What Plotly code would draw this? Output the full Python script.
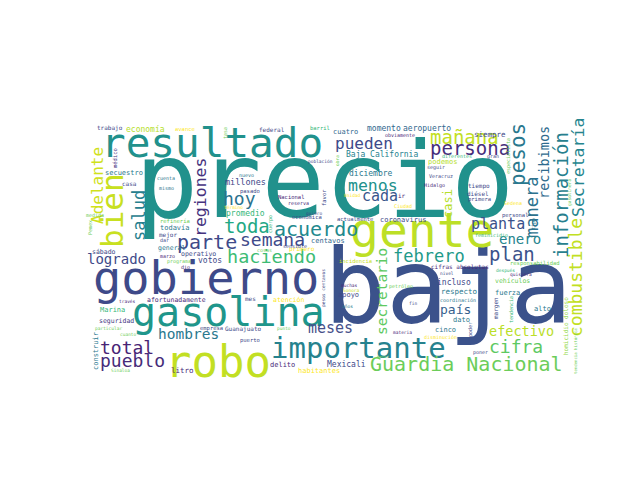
import plotly.graph_objects as go

FONT = "DejaVu Sans Mono"

# ---------------------------------------------------------------------------
# Word cloud data: words and their relative weight (font size in px)
# ---------------------------------------------------------------------------

words = [
    "precio", "baja", "gobierno", "gente", "robo", "resultado", "gasolina",
    "bien", "importante", "Guardia Nacional", "acuerdo", "parte", "información",
    "toda", "haciendo", "plan", "hoy", "persona", "mañana", "combustible",
    "pesos", "total", "pueblo", "semana", "cifra", "salud", "manera", "febrero",
    "Adelante", "regiones", "Secretaría", "menos", "pueden", "cada", "planta",
    "meses", "hombres", "secretario", "enero", "logrado", "efectivo",
    "recibimos", "casi", "país",
    "millones", "diciembre", "Baja California", "promedio", "votos", "incluso",
    "momento", "aeropuerto", "economía", "Mexicali", "secuestro", "respecto",
    "siempre", "coronavirus", "centavos", "cuatro", "podemos", "Marina",
    "apoyo", "todavía", "dato", "cinco", "fuerza", "alto", "delito",
    "habitantes", "litro", "construir", "seguridad", "afortunadamente",
    "vehículos", "atención", "general", "operativo", "sábado",
    "cifras absolutas", "casa", "mejor", "trabajo", "federal", "Guanajuato",
    "primero", "mes", "margen", "homicidio doloso", "barril", "avance",
    "puerto", "refinería", "empresa", "pasado", "actualmente", "tiempo",
    "diésel", "primera", "personal", "incidencia", "responsabilidad",
    "Nacional", "médico", "económica", "reserva", "favor", "Unidad", "ir",
    "Ciudad", "quiero", "población", "obra", "diferentes", "gran",
    "especialista", "seguir", "Veracruz", "Hidalgo", "Sedena", "tipo",
    "feminicidio", "gasolinera", "nivel", "después", "quisiera",
    "coordinación", "tendencia", "disminución", "poder", "poner",
    "tendencia histórica", "materia", "menor", "petróleo", "fin", "muchas",
    "Sonora", "años", "pesos centavos", "punto", "cosas", "sensible",
    "cuerpo", "término", "nuevo", "cuenta", "mismo", "medida", "Pemex",
    "tasa", "obviamente", "marzo", "programa", "dio", "través", "particular",
    "cuanto", "Sinaloa", "dar",
]

weight = [
    105, 103, 47, 48, 44, 41, 40,
    31, 29, 20, 20, 20, 19,
    19, 18.5, 19, 18, 19, 19, 18,
    21, 18, 18, 18, 18, 17, 17, 17,
    16, 16.5, 16.5, 16.5, 16, 15, 15,
    15, 14.5, 14.5, 14, 14, 13.5,
    13.5, 12, 13,
    8.5, 8, 8, 8, 8, 8,
    8, 8, 8, 8, 7, 7.5,
    7.5, 7, 7, 7, 7, 7,
    7, 7, 7, 7, 7, 7, 7,
    7, 7.5, 7, 6.5, 6.5,
    6.5, 6.5, 6.5, 6.5, 6.5,
    6, 6, 6, 6, 6, 6,
    6, 6, 6, 6, 5.5, 5.5,
    5.5, 5.5, 5.5, 5.5, 5.5, 6,
    6, 5.5, 5.5, 5.5, 5.5,
    5.5, 5.5, 5.5, 5, 5.5, 4.5, 6,
    5, 4.5, 4.5, 4.5, 5, 5,
    5, 5, 5, 5, 5, 5,
    5, 4.5, 4.5, 4.5, 4.5,
    5, 5, 5, 5, 5,
    4, 4.5, 4, 5, 4.5, 4.5,
    4.5, 4.5, 4.5, 4.5, 5, 5,
    5, 4.5, 5, 5, 5, 5, 5,
    5, 5, 5, 5, 5, 4.5, 4.5,
    4.5, 4.5, 5,
]

# ---------------------------------------------------------------------------
# Placement (pixel centre on a 640x480 canvas), rotation and colour
# ---------------------------------------------------------------------------

place = {
    "precio": (316, 173, 0, "#21918c"),
    "baja": (440, 279, 0, "#3b528b"),
    "gobierno": (198, 269, 0, "#3e4a89"),
    "gente": (414, 222, 0, "#bddf26"),
    "robo": (210, 353, 0, "#c2df23"),
    "resultado": (204, 135, 0, "#21918c"),
    "gasolina": (220, 304, 0, "#1f968b"),
    "bien": (104, 203, 1, "#c8e020"),
    "importante": (350, 340, 0, "#26828e"),
    "Guardia Nacional": (458, 356, 0, "#6ccd5a"),
    "acuerdo": (308, 221, 0, "#23898e"),
    "parte": (199, 234, 0, "#3e4a89"),
    "información": (553, 187, 1, "#277f8e"),
    "toda": (239, 218, 0, "#22a884"),
    "haciendo": (263, 248, 0, "#3dbc74"),
    "plan": (504, 246, 0, "#3b528b"),
    "hoy": (231, 190, 0, "#2c728e"),
    "persona": (462, 140, 0, "#472d7b"),
    "mañana": (456, 129, 0, "#c2df23"),
    "combustible": (567, 270, 1, "#c2df23"),
    "pesos": (510, 147, 1, "#2a788e"),
    "total": (119, 339, 0, "#482475"),
    "pueblo": (124, 352, 0, "#472c7a"),
    "semana": (264, 231, 0, "#3e4a89"),
    "cifra": (508, 338, 0, "#5ec962"),
    "salud": (131, 208, 1, "#27808e"),
    "manera": (524, 200, 1, "#2c728e"),
    "febrero": (421, 248, 0, "#1f9a8a"),
    "Adelante": (89, 178, 1, "#d0e11c"),
    "regiones": (192, 190, 1, "#46337e"),
    "Secretaría": (570, 160, 1, "#25858e"),
    "menos": (365, 177, 0, "#21918c"),
    "pueden": (356, 135, 0, "#3e4a89"),
    "cada": (372, 188, 0, "#39568c"),
    "planta": (490, 216, 0, "#3b528b"),
    "meses": (322, 320, 0, "#46508a"),
    "hombres": (180, 326, 0, "#2a788e"),
    "secretario": (374, 284, 1, "#5ec962"),
    "enero": (512, 231, 0, "#25858e"),
    "logrado": (108, 251, 0, "#3e4989"),
    "efectivo": (513, 323, 0, "#bade28"),
    "recibimos": (536, 155, 1, "#2f6b8e"),
    "casi": (440, 196, 1, "#b5de2b"),
    "país": (447, 301, 0, "#355f8d"),
    "millones": (237, 174, 0, "#3e4989"),
    "diciembre": (363, 165, 0, "#2a788e"),
    "Baja California": (374, 146, 0, "#26828e"),
    "promedio": (237, 205, 0, "#35b779"),
    "votos": (202, 252, 0, "#3e4989"),
    "incluso": (446, 274, 0, "#3e4989"),
    "momento": (376, 120, 0, "#31688e"),
    "aeropuerto": (419, 120, 0, "#31688e"),
    "economía": (137, 121, 0, "#b5de2b"),
    "Mexicali": (338, 356, 0, "#3e4989"),
    "secuestro": (116, 165, 0, "#2a788e"),
    "respecto": (451, 283, 0, "#2a788e"),
    "siempre": (482, 126, 0, "#3e4989"),
    "coronavirus": (395, 212, 0, "#3e4989"),
    "centavos": (320, 233, 0, "#31688e"),
    "cuatro": (337, 124, 0, "#31688e"),
    "podemos": (435, 154, 0, "#b5de2b"),
    "Marina": (104, 302, 0, "#35b779"),
    "apoyo": (340, 287, 0, "#3e4989"),
    "todavía": (167, 220, 0, "#2a788e"),
    "dato": (453, 312, 0, "#2a788e"),
    "cinco": (437, 322, 0, "#2a788e"),
    "fuerza": (499, 285, 0, "#2a788e"),
    "alto": (534, 301, 0, "#2a788e"),
    "delito": (274, 357, 0, "#482878"),
    "habitantes": (311, 363, 0, "#fde725"),
    "litro": (174, 362, 0, "#482878"),
    "construir": (88, 343, 1, "#2a788e"),
    "seguridad": (108, 313, 0, "#443983"),
    "afortunadamente": (168, 292, 0, "#482878"),
    "vehículos": (504, 273, 0, "#6ece58"),
    "atención": (280, 292, 0, "#fde725"),
    "general": (163, 240, 0, "#2a788e"),
    "operativo": (190, 246, 0, "#3e4989"),
    "sábado": (96, 244, 0, "#3e4989"),
    "cifras absolutas": (452, 258, 0, "#482878"),
    "casa": (121, 175, 0, "#3e4989"),
    "mejor": (160, 227, 0, "#3e4989"),
    "trabajo": (102, 120, 0, "#3e4989"),
    "federal": (264, 121, 0, "#3e4989"),
    "Guanajuato": (235, 321, 0, "#3e4989"),
    "primero": (294, 241, 0, "#fde725"),
    "mes": (242, 290, 0, "#3e4989"),
    "margen": (488, 300, 1, "#3e4989"),
    "homicidio doloso": (557, 318, 1, "#8fd744"),
    "barril": (312, 120, 0, "#35b779"),
    "avance": (177, 121, 0, "#fde725"),
    "puerto": (242, 332, 0, "#3e4989"),
    "refinería": (167, 213, 0, "#6ece58"),
    "empresa": (203, 320, 0, "#3e4989"),
    "pasado": (242, 183, 0, "#3e4989"),
    "actualmente": (347, 211, 0, "#3e4989"),
    "tiempo": (471, 178, 0, "#3e4989"),
    "diésel": (470, 185, 0, "#3e4989"),
    "primera": (471, 191, 0, "#3e4989"),
    "personal": (507, 207, 0, "#3e4989"),
    "incidencia": (347, 253, 0, "#c8e020"),
    "responsabilidad": (527, 255, 0, "#6ece58"),
    "Nacional": (283, 189, 0, "#482878"),
    "médico": (107, 150, 1, "#46337e"),
    "económica": (299, 209, 0, "#3e4989"),
    "reserva": (290, 195, 0, "#482878"),
    "favor": (316, 190, 1, "#3e4989"),
    "Unidad": (344, 187, 0, "#fde725"),
    "ir": (394, 187, 0, "#482878"),
    "Ciudad": (395, 198, 0, "#fde725"),
    "quiero": (306, 205, 0, "#3e4989"),
    "población": (312, 153, 0, "#3e4989"),
    "obra": (329, 153, 1, "#6ece58"),
    "diferentes": (449, 148, 0, "#35b779"),
    "gran": (485, 148, 0, "#3e4989"),
    "especialista": (500, 148, 1, "#6ece58"),
    "seguir": (428, 159, 0, "#3e4989"),
    "Veracruz": (433, 168, 0, "#3e4989"),
    "Hidalgo": (426, 177, 0, "#482878"),
    "Sedena": (505, 195, 0, "#fde725"),
    "tipo": (525, 216, 1, "#2a788e"),
    "feminicidio": (483, 227, 0, "#35b779"),
    "gasolinera": (561, 185, 1, "#6ece58"),
    "nivel": (439, 265, 0, "#3e4989"),
    "después": (497, 262, 0, "#35b779"),
    "quisiera": (513, 266, 0, "#482878"),
    "coordinación": (450, 292, 0, "#2a788e"),
    "tendencia": (503, 302, 1, "#35b779"),
    "disminución": (432, 329, 0, "#fde725"),
    "poder": (462, 322, 1, "#3e4989"),
    "poner": (472, 344, 0, "#3e4989"),
    "tendencia histórica": (567, 343, 1, "#6ece58"),
    "materia": (394, 324, 0, "#482878"),
    "menor": (375, 348, 0, "#6ece58"),
    "petróleo": (393, 278, 0, "#6ece58"),
    "fin": (405, 295, 0, "#3e4989"),
    "muchas": (341, 277, 0, "#482878"),
    "Sonora": (343, 282, 0, "#c8e020"),
    "años": (339, 298, 0, "#2a788e"),
    "pesos centavos": (315, 280, 1, "#3e4989"),
    "punto": (276, 320, 0, "#6ece58"),
    "cosas": (256, 242, 0, "#6ece58"),
    "sensible": (287, 238, 0, "#3e4989"),
    "cuerpo": (262, 216, 1, "#35b779"),
    "término": (225, 199, 0, "#fde725"),
    "nuevo": (238, 167, 0, "#2a788e"),
    "cuenta": (158, 170, 0, "#2a788e"),
    "mismo": (158, 180, 0, "#2a788e"),
    "medida": (87, 207, 0, "#6ece58"),
    "Pemex": (82, 220, 1, "#6ece58"),
    "tasa": (217, 125, 1, "#6ece58"),
    "obviamente": (392, 127, 0, "#482878"),
    "marzo": (159, 248, 0, "#482878"),
    "programa": (171, 253, 0, "#6ece58"),
    "dio": (177, 259, 0, "#482878"),
    "través": (119, 293, 0, "#482878"),
    "particular": (100, 320, 0, "#6ece58"),
    "cuanto": (120, 326, 0, "#6ece58"),
    "Sinaloa": (112, 362, 0, "#6ece58"),
    "dar": (156, 232, 0, "#3e4989"),
}

fig = go.Figure()

for word, w in zip(words, weight):
    x, y, rot, color = place[word]
    fig.add_annotation(
        x=x,
        y=y,
        xref="x",
        yref="y",
        text=word,
        showarrow=False,
        textangle=-90 if rot else 0,
        xanchor="center",
        yanchor="middle",
        borderpad=0,
        font=dict(family=FONT, size=w, color=color),
    )

fig.update_layout(
    width=640,
    height=480,
    margin=dict(l=0, r=0, t=0, b=0),
    paper_bgcolor="white",
    plot_bgcolor="white",
    showlegend=False,
    xaxis=dict(range=[0, 640], visible=False, fixedrange=True),
    yaxis=dict(range=[480, 0], visible=False, fixedrange=True),
)

fig.write_html("out.html")
